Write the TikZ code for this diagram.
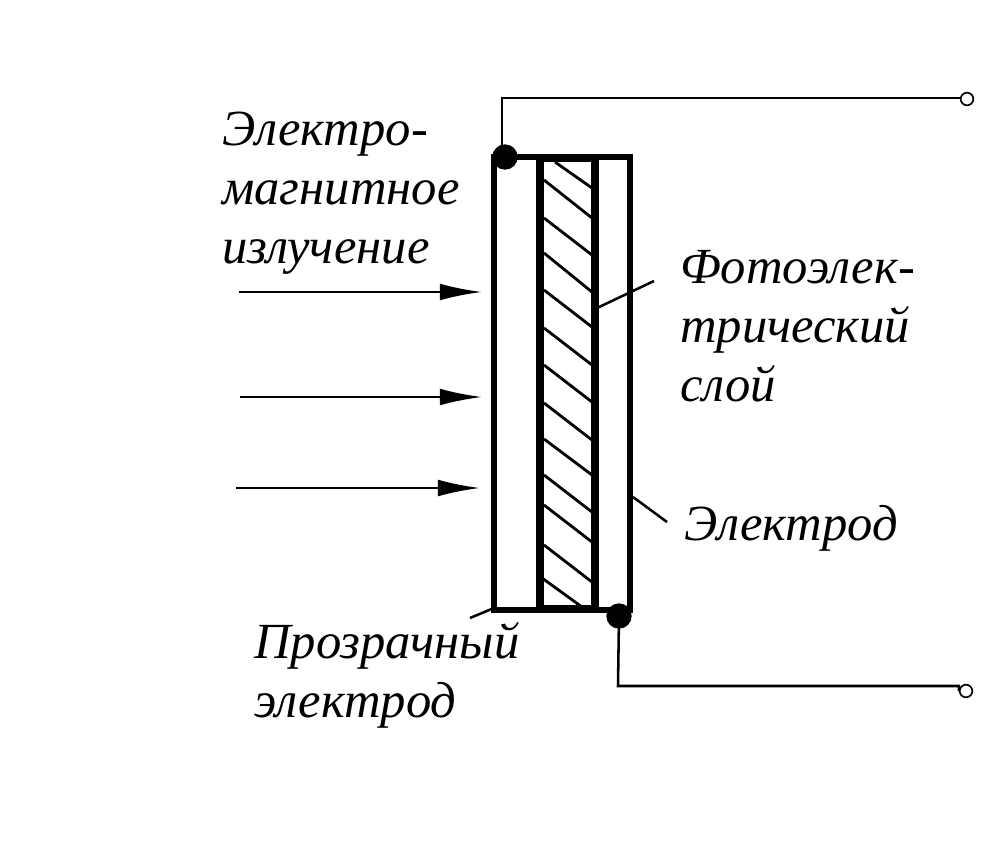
\documentclass[tikz,border=0pt]{standalone}
\usepackage{fontspec}
\setmainfont{Liberation Serif}
\usetikzlibrary{arrows.meta}
\tikzset{
	label/.style={inner sep=0pt,align=left,anchor=north west,font=\itshape\fontsize{36}{42}\selectfont},
	terminal/.style={circle,draw,line width=1.2pt,fill=white,minimum size=9pt,inner sep=0pt},
	joint/.style={circle,fill=black,minimum size=18pt,inner sep=0pt},
	beam/.style={line width=1.8pt,-{Latex[length=30pt,width=12pt]}},
	wire/.style={line width=1.8pt},
	hatch/.style={line width=2pt}
}
\begin{document}
\begin{tikzpicture}[x=0.025cm,y=-0.025cm]
	\useasboundingbox (0,0) rectangle (981,843);
	% electrode and layer
	\draw[line width=4.5pt] (494,157) rectangle (630,610);
	\draw[line width=5pt] (540,158) rectangle (595,609);
	% hatching
	\foreach \yl/\yr in {180/218,218/255,253/292,290/327,328/365,365/402,403/440,439/475,475/512,505/542,545/582}
		\draw[hatch] (544,\yl)--(592,\yr);
	\draw[hatch] (555,162)--(592,188);
	\draw[hatch] (542,578)--(582,607);
	% joints and terminals
	\node[joint] (jointa) at (505,157) {};
	\node[joint] (jointb) at (619,616) {};
	\node[terminal] (terma) at (967,99) {};
	\node[terminal] (termb) at (966,691) {};
	\coordinate (corna) at (502,98);
	\coordinate (cornb) at (618,686);
	\coordinate (foota) at (502,157);
	\draw[wire] (foota)--(corna)--(corna-|terma.west)--(terma.west);
	\draw[wire] (jointb.center)--(cornb)--(cornb-|termb.west)--(termb.west);
	% radiation
	\coordinate (srca) at (239,292);
	\coordinate (srcb) at (240,397);
	\coordinate (srcc) at (236,488);
	\coordinate (dsta) at (482,292);
	\coordinate (dstb) at (482,397);
	\coordinate (dstc) at (480,488);
	\draw[beam] (srca)--(dsta);
	\draw[beam] (srcb)--(dstb);
	\draw[beam] (srcc)--(dstc);
	% labels
	\node[label] (radiation) at (222,112) {Электро-\\магнитное\\излучение};
	\node[label] (layer) at (680,250) {Фотоэлек-\\трический\\слой};
	\node[label] (electrode) at (684,505) {Электрод};
	\node[label] (transparent) at (254,622) {Прозрачный\\электрод};
	% leaders
	\coordinate (lead1) at (597,308);
	\coordinate (lead2) at (654,281);
	\coordinate (lead3) at (633,497);
	\coordinate (lead4) at (667,522);
	\coordinate (lead5) at (470,618);
	\coordinate (lead6) at (494,608);
	\draw[wire] (lead1)--(lead2);
	\draw[wire] (lead3)--(lead4);
	\draw[wire] (lead5)--(lead6);
\end{tikzpicture}
\end{document}
